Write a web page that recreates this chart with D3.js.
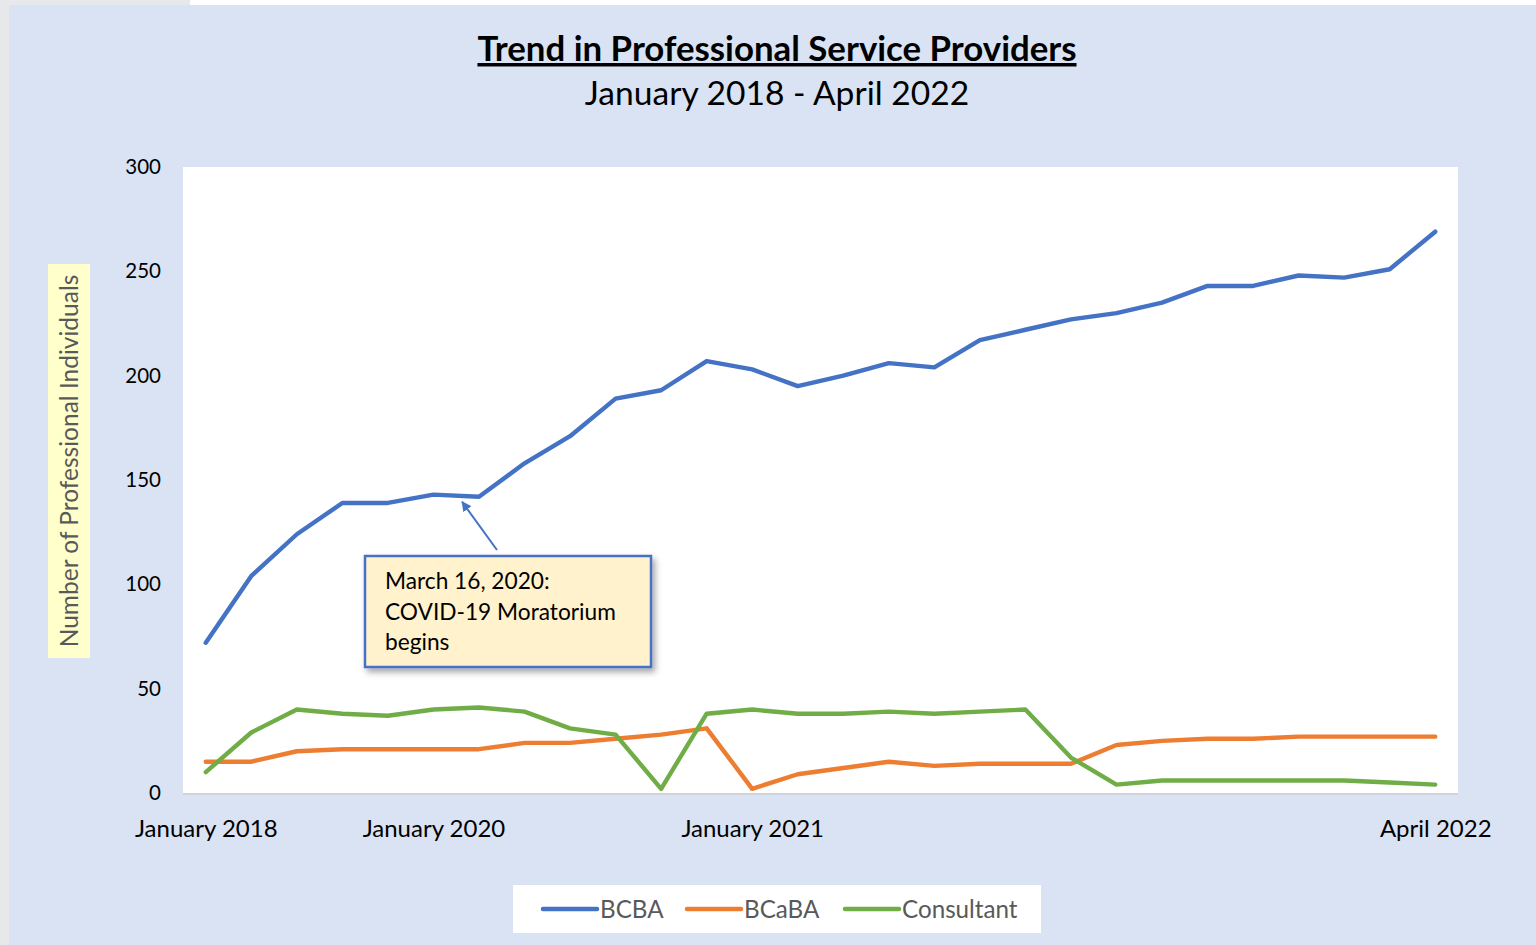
<!DOCTYPE html>
<html><head><meta charset="utf-8">
<script src="https://cdn.jsdelivr.net/npm/d3@7"></script>
<style>
html,body{margin:0;padding:0;background:#ffffff;}
svg{display:block;}
text{font-family:Lato,"Open Sans",sans-serif;}
</style></head>
<body>
<script>
const categories = ["January 2018","June 2018","January 2019","June 2019","October 2019","January 2020","March 2020","May 2020","July 2020","September 2020","November 2020","December 2020","January 2021","February 2021","March 2021","April 2021","May 2021","June 2021","July 2021","August 2021","September 2021","October 2021","November 2021","December 2021","January 2022","February 2022","March 2022","April 2022"];
const bcba = [72,104,124,139,139,143,142,158,171,189,193,207,203,195,200,206,204,217,222,227,230,235,243,243,248,247,251,269];
const bcaba = [15,15,20,21,21,21,21,24,24,26,28,31,2,9,12,15,13,14,14,14,23,25,26,26,27,27,27,27];
const consultant = [10,29,40,38,37,40,41,39,31,28,2,38,40,38,38,39,38,39,40,17,4,6,6,6,6,6,5,4];
const seriesNames = ["BCBA","BCaBA","Consultant"];
const seriesColors = ["#4472c4","#ed7d31","#70ad47"];
const shownTicks = ["January 2018","January 2020","January 2021","April 2022"];
const yTicks = [0,50,100,150,200,250,300];
const title = "Trend in Professional Service Providers";
const subtitle = "January 2018 - April 2022";
const yTitle = "Number of Professional Individuals";
const noteLines = ["March 16, 2020:","COVID-19 Moratorium","begins"];

const W=1536,H=945;
const svg=d3.select("body").append("svg").attr("width",W).attr("height",H);
const defs=svg.append("defs");
const f=defs.append("filter").attr("id","sh").attr("x","-10%").attr("y","-10%").attr("width","130%").attr("height","140%");
f.append("feDropShadow").attr("dx",3).attr("dy",4).attr("stdDeviation",3).attr("flood-color","#000").attr("flood-opacity",0.35);
const mk=defs.append("marker").attr("id","arr").attr("viewBox","0 0 10 10").attr("refX",9).attr("refY",5)
 .attr("markerWidth",5).attr("markerHeight",5).attr("orient","auto-start-reverse").attr("markerUnits","strokeWidth");
mk.append("path").attr("d","M0,0L10,5L0,10z").attr("fill","#4472c4");

// outer area + panel
svg.append("rect").attr("x",0).attr("y",0).attr("width",190).attr("height",H).attr("fill","#e6e8ea");
svg.append("rect").attr("x",9).attr("y",5).attr("width",W-9).attr("height",H-5).attr("fill","#dae3f3");

const L=183,R=1458,T=167,B=793;
svg.append("rect").attr("x",L).attr("y",T+2).attr("width",R-L).attr("height",B-T).attr("fill","#d0d4da");
svg.append("rect").attr("x",L).attr("y",T).attr("width",R-L).attr("height",B-T).attr("fill","#ffffff");

const x=d3.scalePoint().domain(categories).range([L,R]).padding(0.5);
const y=d3.scaleLinear().domain([0,300]).range([B,T]);

// titles
svg.append("text").attr("x",777).attr("y",61).attr("text-anchor","middle").attr("font-size",34.8).attr("font-weight","bold")
 .attr("text-decoration","underline").attr("fill","#000").text(title);
svg.append("text").attr("x",777).attr("y",105).attr("text-anchor","middle").attr("font-size",33.6).attr("fill","#000").text(subtitle);

// y axis
const ya=svg.append("g").attr("transform",`translate(${L-22},0)`)
 .call(d3.axisLeft(y).tickValues(yTicks).tickSize(0).tickPadding(0));
ya.select(".domain").remove();
ya.selectAll("text").attr("font-size",20.5).attr("fill","#000").attr("font-family","Lato, sans-serif");

// x axis
const xa=svg.append("g").attr("transform",`translate(0,${B})`)
 .call(d3.axisBottom(x).tickValues(shownTicks).tickSize(0).tickPadding(27));
xa.select(".domain").remove();
xa.selectAll("text").attr("font-size",24).attr("fill","#000").attr("font-family","Lato, sans-serif")
 .text(d=>d);

// y title
const yt=svg.append("g").attr("transform","translate(69,461) rotate(-90)");
yt.append("rect").attr("x",-197).attr("y",-21).attr("width",394).attr("height",42).attr("fill","#ffffcc");
yt.append("text").attr("x",0).attr("y",8.5).attr("text-anchor","middle").attr("font-size",24.5).attr("fill","#595959").text(yTitle);

// lines
const data=[bcba,bcaba,consultant];
const line=d3.line().x((d,i)=>x(categories[i])).y(d=>y(d));
[1,2,0].forEach(k=>{
 svg.append("path").attr("d",line(data[k])).attr("fill","none").attr("stroke",seriesColors[k])
  .attr("stroke-width",4.4).attr("stroke-linejoin","round").attr("stroke-linecap","round");
});

// annotation
const tipX=x(categories[5])+(x(categories[6])-x(categories[5]))*0.63;
const tipY=y(bcba[5]+(bcba[6]-bcba[5])*0.63)+6;
svg.append("line").attr("x1",497).attr("y1",550).attr("x2",tipX).attr("y2",tipY)
 .attr("stroke","#4472c4").attr("stroke-width",2).attr("marker-end","url(#arr)");
const nb=svg.append("g");
nb.append("rect").attr("x",365).attr("y",556).attr("width",286).attr("height",111).attr("fill","#fff2cc")
 .attr("stroke","#4472c4").attr("stroke-width",2.5).attr("filter","url(#sh)");
noteLines.forEach((t,i)=>{
 nb.append("text").attr("x",385).attr("y",589+i*30.5).attr("font-size",22.7).attr("fill","#000").text(t);
});

// legend
const lg=svg.append("g");
lg.append("rect").attr("x",513).attr("y",885).attr("width",528).attr("height",48).attr("fill","#ffffff");
const lx=[543,687,845];
seriesNames.forEach((n,i)=>{
 lg.append("line").attr("x1",lx[i]).attr("x2",lx[i]+54).attr("y1",909).attr("y2",909)
  .attr("stroke",seriesColors[i]).attr("stroke-width",4.5).attr("stroke-linecap","round");
 lg.append("text").attr("x",lx[i]+57).attr("y",917.5).attr("font-size",24.2).attr("fill","#595959").text(n);
});
</script>
</body></html>
